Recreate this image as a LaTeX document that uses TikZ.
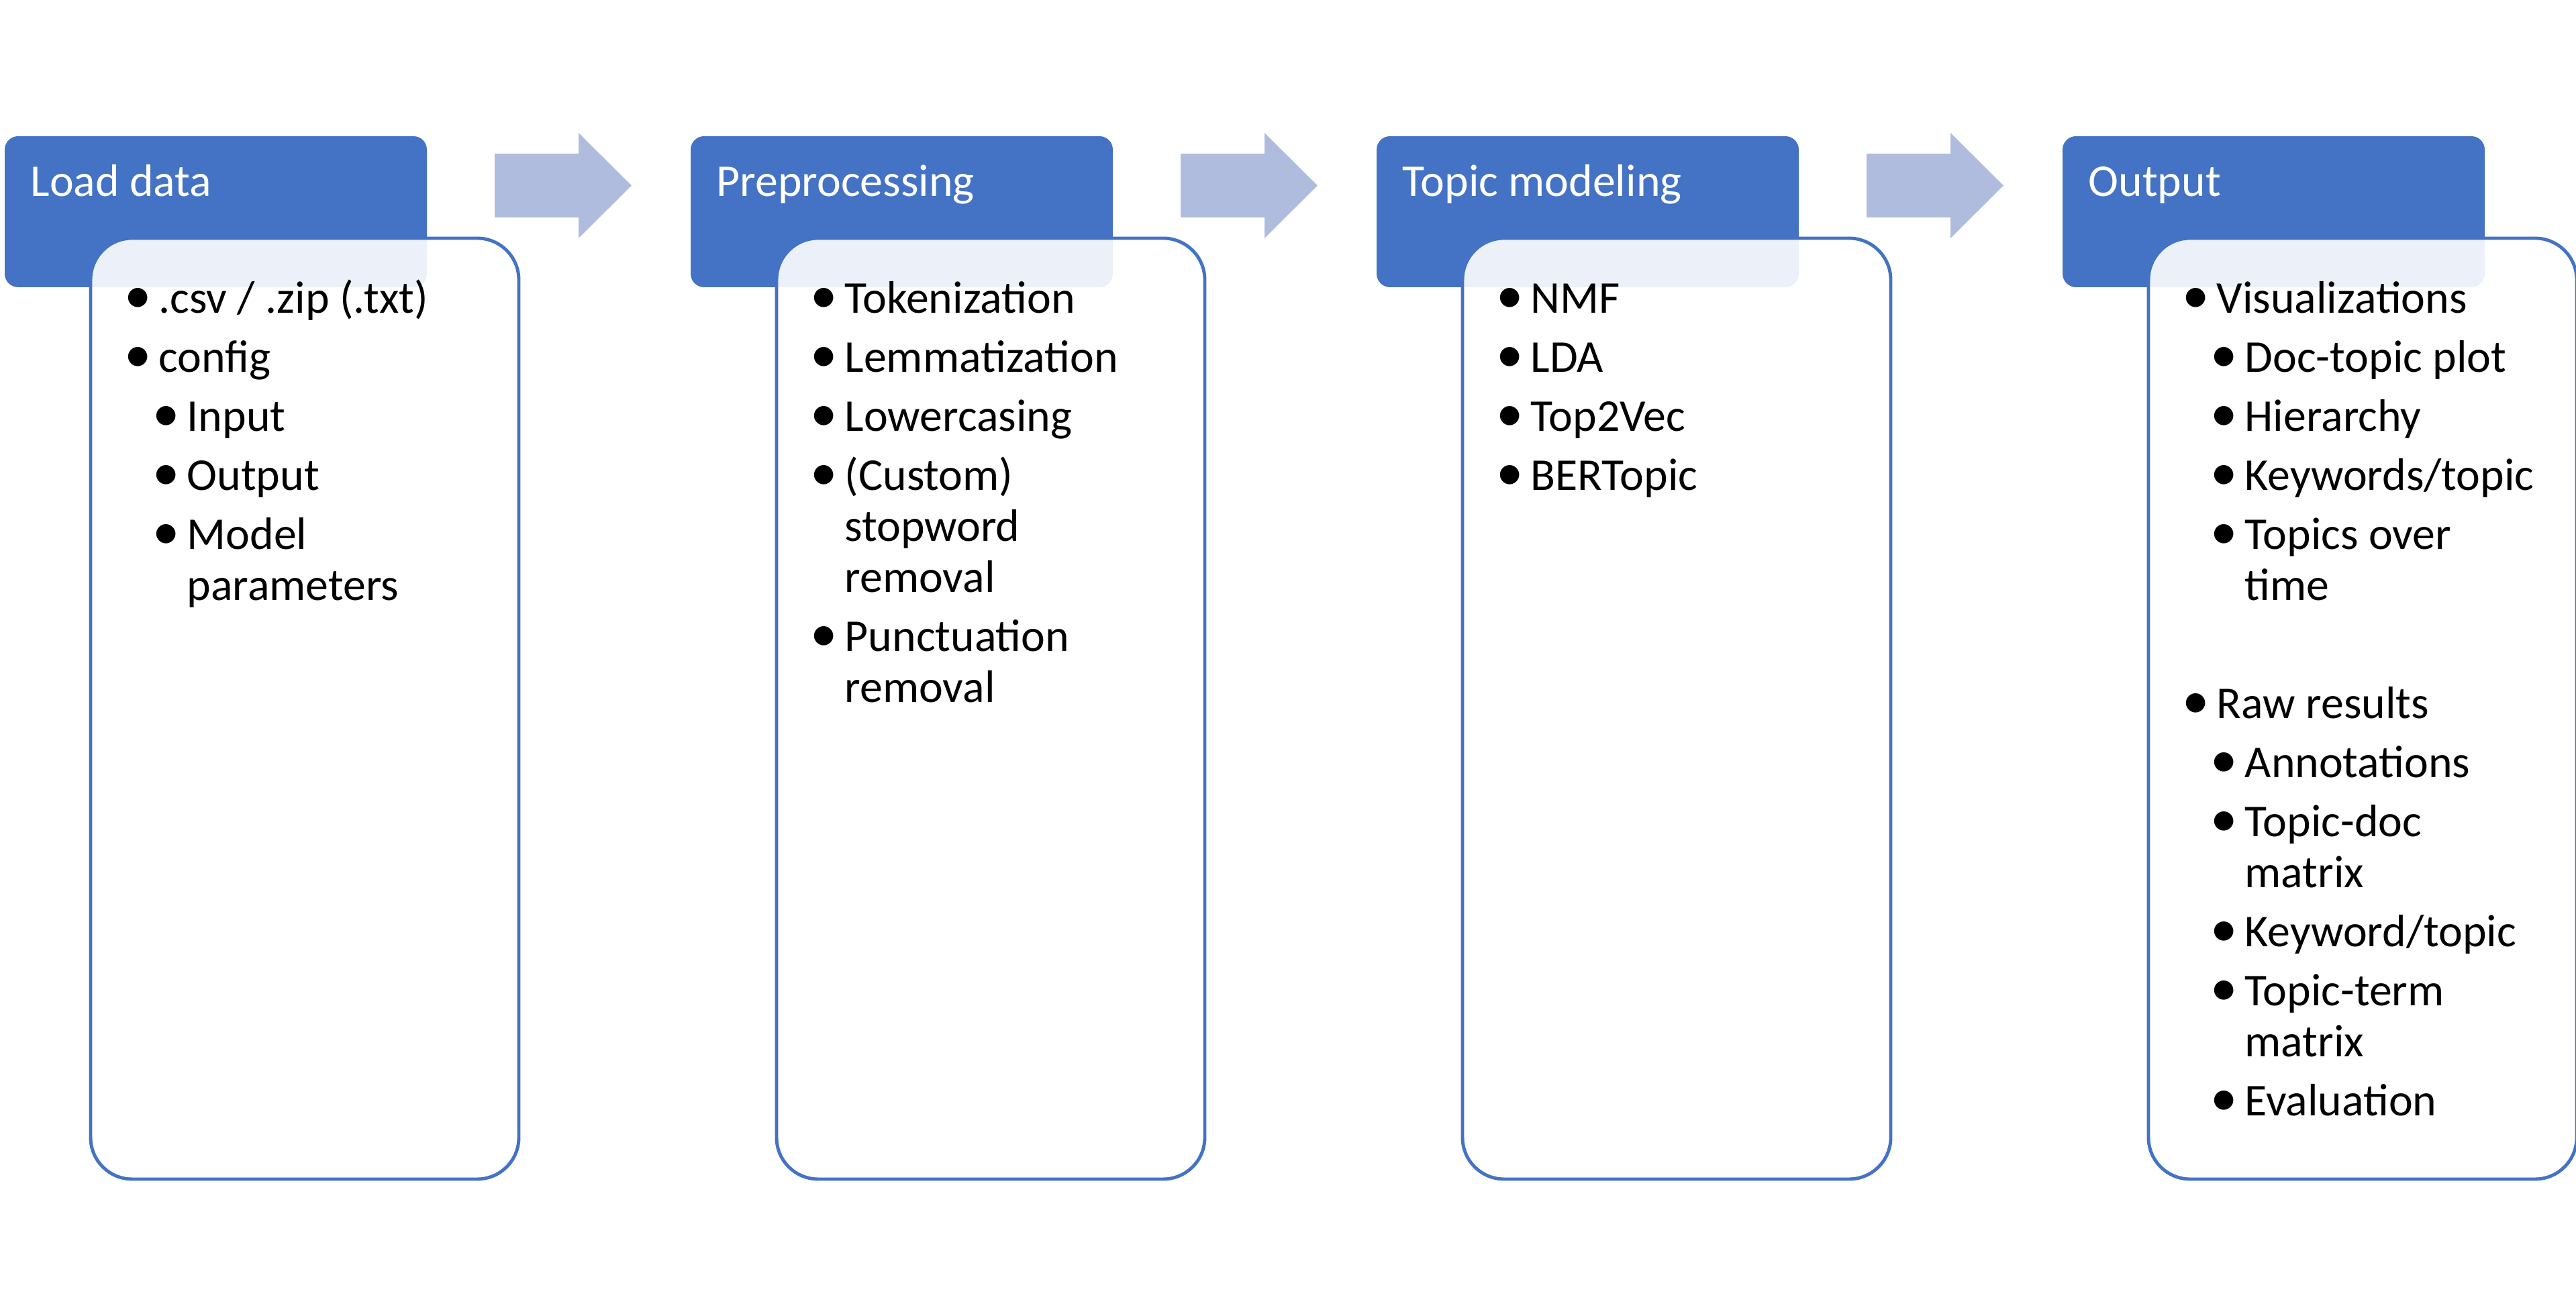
\documentclass[tikz,border=0pt]{standalone}
\usepackage{fontspec}
\setmainfont{Carlito}
\definecolor{hdblue}{RGB}{68,114,196}
\definecolor{arblue}{RGB}{176,188,222}

\begin{document}
\begin{tikzpicture}[
  head/.style={fill=hdblue,rounded corners=0.2cm},
  box/.style={draw=hdblue,line width=1.4pt,fill=white,fill opacity=0.9,rounded corners=0.62cm},
  blk/.style={fill=arblue},
  htxt/.style={anchor=base west,inner sep=0pt,text=white,font=\fontsize{19.3}{23}\selectfont},
  txt/.style={anchor=base west,inner sep=0pt,font=\fontsize{19.3}{23}\selectfont},
  bul/.style={txt,execute at begin node=\llap{{\fontsize{23}{23}\selectfont\textbullet}\hspace{0.11cm}}}]
  \useasboundingbox (0,0) rectangle (38.38,19.55);
  % cabeceras y cajas
  \foreach \t [count=\i from 0] in {Load data,Preprocessing,Topic modeling,Output}{
    \begin{scope}[xshift=\i*10.22cm]
      \fill[head] (0.07,15.27) rectangle (6.36,17.52);
      \node[htxt] (h\i) at (0.45,16.62) {\t};
      \draw[box] (1.35,1.98) rectangle (7.73,16.00);
    \end{scope}
  }
  % flechas de bloque
  \foreach \i in {0,1,2}
    \fill[blk,xshift=\i*10.22cm] (7.37,17.26)--(8.62,17.26)--(8.62,17.57)--(9.41,16.785)
      --(8.62,16.00)--(8.62,16.31)--(7.37,16.31)--cycle;
  % load data
  \foreach \st/\xx/\yy/\tx [count=\k] in {bul/2.36/14.88/{.csv / .zip (.txt)},
      bul/2.36/14.00/config, bul/2.78/13.12/Input, bul/2.78/12.24/Output,
      bul/2.78/11.36/Model, txt/2.78/10.60/parameters}
    \node[\st] (a\k) at (\xx,\yy) {\tx};
  % preprocessing
  \begin{scope}[xshift=10.22cm]
  \foreach \st/\xx/\yy/\tx [count=\k] in {bul/2.36/14.88/Tokenization,
      bul/2.36/14.00/Lemmatization, bul/2.36/13.12/Lowercasing, bul/2.36/12.24/(Custom),
      txt/2.36/11.48/stopword, txt/2.36/10.72/removal, bul/2.36/9.84/Punctuation,
      txt/2.36/9.08/removal}
    \node[\st] (b\k) at (\xx,\yy) {\tx};
  \end{scope}
  % topic modeling
  \begin{scope}[xshift=20.44cm]
  \foreach \st/\xx/\yy/\tx [count=\k] in {bul/2.36/14.88/NMF, bul/2.36/14.00/LDA,
      bul/2.36/13.12/Top2Vec, bul/2.36/12.24/BERTopic}
    \node[\st] (c\k) at (\xx,\yy) {\tx};
  \end{scope}
  % output
  \begin{scope}[xshift=30.66cm]
  \foreach \st/\xx/\yy/\tx [count=\k] in {bul/2.36/14.88/Visualizations,
      bul/2.78/14.00/Doc-topic plot, bul/2.78/13.12/Hierarchy, bul/2.78/12.24/{Keywords/topic},
      bul/2.78/11.36/Topics over, txt/2.78/10.60/time, bul/2.36/8.84/Raw results,
      bul/2.78/7.96/Annotations, bul/2.78/7.08/Topic-doc, txt/2.78/6.32/matrix,
      bul/2.78/5.44/{Keyword/topic}, bul/2.78/4.56/Topic-term, txt/2.78/3.80/matrix,
      bul/2.78/2.92/Evaluation}
    \node[\st] (d\k) at (\xx,\yy) {\tx};
  \end{scope}
\end{tikzpicture}
\end{document}
